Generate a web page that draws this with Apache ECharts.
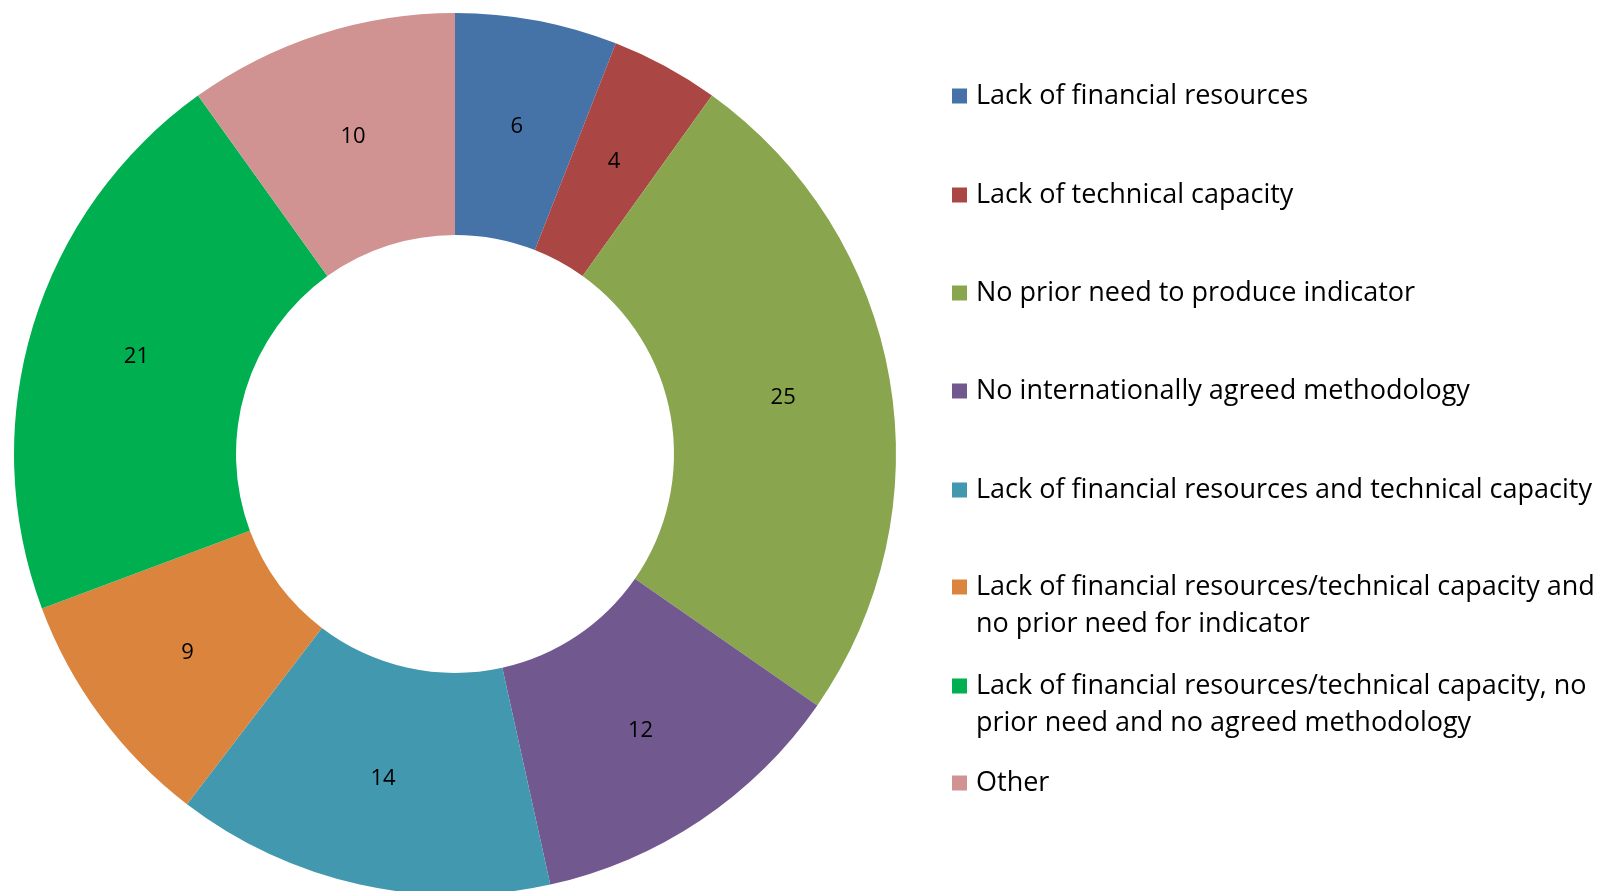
<!DOCTYPE html>
<html>
<head>
<meta charset="utf-8">
<title>Reasons</title>
<script src="https://cdn.jsdelivr.net/npm/echarts@6/dist/echarts.min.js"></script>
<style>
  html, body { margin: 0; padding: 0; background: #fff; }
  #chart { width: 1610px; height: 891px; }
</style>
</head>
<body>
<div id="chart"></div>
<script>
// categories and values, clockwise from 12 o'clock
const categories = [
  'Lack of financial resources',
  'Lack of technical capacity',
  'No prior need to produce indicator',
  'No internationally agreed methodology',
  'Lack of financial resources and technical capacity',
  'Lack of financial resources/technical capacity and\nno prior need for indicator',
  'Lack of financial resources/technical capacity, no\nprior need and no agreed methodology',
  'Other'
]
const values = [6, 4, 25, 12, 14, 9, 21, 10]
const colors = ['#4572A7', '#AA4643', '#89A54E', '#71588F', '#4198AF', '#DB843D', '#00B050', '#D19292']

const chart = echarts.init(document.getElementById('chart'))
const fontFamily = '"Open Sans", Lato, sans-serif'
const lineH = 37
// y of the first text line of each legend entry
const legendY = [101, 200, 298, 396, 495, 592, 691, 788]

const legends = categories.map((name, i) => {
  const lines = name.split('\n')
  // an empty first line keeps the marker level with the first real line
  const rows = lines.length > 1 ? [''].concat(lines) : lines
  const h = lineH * rows.length
  return {
    data: [name],
    orient: 'vertical',
    left: 952,
    top: legendY[i] - h / 2,
    padding: 0,
    icon: 'rect',
    itemWidth: 15,
    itemHeight: 15,
    selectedMode: false,
    formatter: () => rows.map(r => '{t|' + (r || ' ') + '}').join('\n'),
    textStyle: {
      rich: {
        t: {
          fontFamily: fontFamily,
          fontSize: 27,
          color: '#000',
          lineHeight: lineH,
          padding: [0, 0, 0, 4]
        }
      }
    }
  }
})

chart.setOption({
  color: colors,
  animation: false,
  legend: legends,
  series: [{
    type: 'pie',
    center: [455, 454],
    radius: [219, 441],
    startAngle: 90,
    clockwise: true,
    avoidLabelOverlap: false,
    label: {
      show: true,
      position: 'inside',
      formatter: '{c}',
      color: '#000',
      fontFamily: fontFamily,
      fontSize: 22
    },
    labelLine: { show: false },
    emphasis: { disabled: true },
    itemStyle: { borderWidth: 0 },
    data: categories.map((name, i) => ({ name: name, value: values[i] }))
  }]
})
</script>
</body>
</html>
